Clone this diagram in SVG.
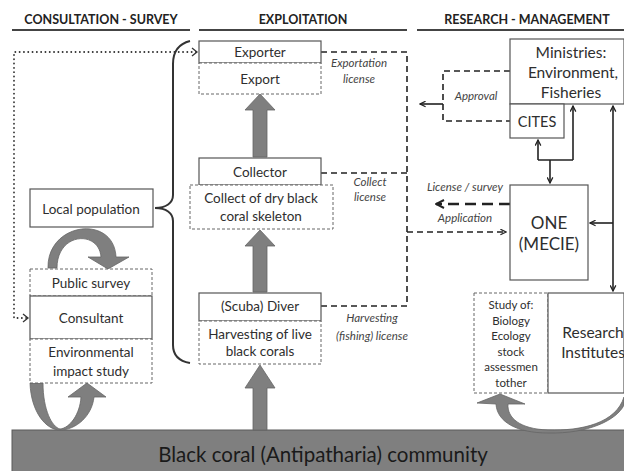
<svg xmlns="http://www.w3.org/2000/svg" width="624" height="471" viewBox="0 0 624 471">
<defs>
<style>
text{font-family:Lato,"Liberation Sans",sans-serif;fill:#2e2e2e}
.hdr{font-weight:bold;font-size:12.5px;fill:#222}
.hl{stroke:#444;stroke-width:2.2}
.box{fill:#fff;stroke:#555;stroke-width:1.2}
.dbox{fill:#fff;stroke:#666;stroke-width:1;stroke-dasharray:3 2}
.t13{font-size:13.5px;text-anchor:middle}
.t15{font-size:15.5px;text-anchor:middle}
.lab{font-size:11.5px;font-style:italic;text-anchor:middle;fill:#444}
.lic{fill:none;stroke:#222;stroke-width:1.6;stroke-dasharray:6 4}
.blk{fill:none;stroke:#222;stroke-width:1.6}
.garrow{fill:#7f7f7f;stroke:#666;stroke-width:0.8}
.st{font-size:11.5px;text-anchor:middle}
</style>
<marker id="ah" viewBox="0 0 10 10" refX="9" refY="5" markerWidth="7" markerHeight="7" orient="auto" markerUnits="userSpaceOnUse">
<path d="M1,1 L9,5 L1,9" fill="none" stroke="#222" stroke-width="1.8"/>
</marker>
<marker id="ahs" viewBox="0 0 10 10" refX="9" refY="5" markerWidth="7" markerHeight="7" orient="auto-start-reverse" markerUnits="userSpaceOnUse">
<path d="M1,1 L9,5 L1,9" fill="none" stroke="#222" stroke-width="1.8"/>
</marker>
<marker id="ahb" viewBox="0 0 10 10" refX="9" refY="5" markerWidth="10" markerHeight="10" orient="auto" markerUnits="userSpaceOnUse">
<path d="M1,1 L9,5 L1,9" fill="none" stroke="#222" stroke-width="2"/>
</marker>
</defs>
<rect width="624" height="471" fill="#fff"/>

<g id="headers">
<text class="hdr" x="101" y="24" text-anchor="middle">CONSULTATION - SURVEY</text>
<line class="hl" x1="12" y1="30" x2="190" y2="30"/>
<text class="hdr" x="303" y="24" text-anchor="middle">EXPLOITATION</text>
<line class="hl" x1="199" y1="30" x2="407" y2="30"/>
<text class="hdr" x="527" y="24" text-anchor="middle">RESEARCH - MANAGEMENT</text>
<line class="hl" x1="417" y1="30" x2="624" y2="30"/>
</g>

<g id="community">
<rect x="12" y="430" width="613" height="42" fill="#7f7f7f" stroke="#5a5a5a" stroke-width="1"/>
<text x="323" y="462" font-size="20.5" text-anchor="middle" style="fill:#1a1a1a">Black coral (Antipatharia) community</text>
</g>

<g id="connectors">
<path d="M196,52 L14,52 L14,318 L27,318" fill="none" stroke="#333" stroke-width="1.8" stroke-dasharray="0.1 4.2" stroke-linecap="round"/>
<path d="M192,48 L197,52 L192,56" fill="none" stroke="#333" stroke-width="1.3"/>
<path d="M23,314 L28,318 L23,322" fill="none" stroke="#333" stroke-width="1.3"/>
<path d="M190,41 C178,44 173,52 173,64 L173,195 C173,203 166,208 155,208 C166,208 173,213 173,221 L173,345 C173,355 178,361 190,363" fill="none" stroke="#333" stroke-width="2"/>
<path class="lic" d="M321,52 L407,52 L407,306 L321,306"/>
<path class="lic" d="M321,173 L407,173"/>
<path class="lic" d="M407,232 L506,232" marker-end="url(#ah)"/>
<path d="M510,204 L436,204" fill="none" stroke="#222" stroke-width="2.6" stroke-dasharray="11 6" marker-end="url(#ahb)"/>
<path class="lic" d="M510,71 L443,71 L443,121 L510,121"/>
<path class="blk" d="M443,104 L420,104" marker-end="url(#ah)"/>
<path class="blk" d="M538,160 L538,140" marker-end="url(#ah)"/>
<path class="blk" d="M573,160 L573,106" marker-end="url(#ah)"/>
<path class="blk" d="M538,160 L573,160"/>
<path class="blk" d="M550,160 L550,183" marker-end="url(#ah)"/>
<path class="blk" d="M613,106 L613,291" marker-start="url(#ahs)" marker-end="url(#ah)"/>
<path class="blk" d="M613,223 L590,223" marker-end="url(#ah)"/>
<path class="garrow" d="M253,157 L253,110 L245,110 L260,94 L275,110 L267,110 L267,157 Z"/>
<path class="garrow" d="M253,292 L253,246 L245,246 L260,230 L275,246 L267,246 L267,292 Z"/>
<path class="garrow" d="M253,430 L253,388 L245,388 L260,365 L275,388 L267,388 L267,430 Z"/>
<path class="garrow" d="M48,268 C47,222 114,214 116,257 L129,257 L108,269 L88,257 L101,257 C99,230 57,232 57,268 Z"/>
<path class="garrow" d="M30,383 C31,412 46,430 60,430 C76,430 92,416 94,397 L106,397 L87,383 L68,397 L81,397 C80,414 70,428 60,429 C52,427 43,410 43,383 Z"/>
<path class="garrow" d="M624,397 C616,423 582,431 548,430 C520,429 507,418 508,404 L525,404 L500,394 L477,403 L496,404 C497,422 517,433 548,433 C588,434 617,420 624,405 Z"/>
</g>

<g id="exporter"><rect class="box" x="199" y="41" width="122" height="22"/><text class="t13" x="260" y="57">Exporter</text></g>
<g id="export"><rect class="dbox" x="199" y="63" width="122" height="31"/><text class="t13" x="260" y="84">Export</text></g>
<g id="collector"><rect class="box" x="199" y="158" width="122" height="27"/><text class="t13" x="260" y="177">Collector</text></g>
<g id="collect"><rect class="dbox" x="190" y="185" width="143" height="44"/><text class="t13" x="261" y="203">Collect of dry black</text><text class="t13" x="261" y="221">coral skeleton</text></g>
<g id="diver"><rect class="box" x="199" y="293" width="122" height="28"/><text class="t13" x="260" y="311">(Scuba) Diver</text></g>
<g id="harvesting"><rect class="dbox" x="199" y="321" width="122" height="43"/><text class="t13" x="260" y="339">Harvesting of live</text><text class="t13" x="260" y="356">black corals</text></g>

<g id="licenses">
<text class="lab" x="359" y="67">Exportation</text><text class="lab" x="359" y="83">license</text>
<text class="lab" x="370" y="186">Collect</text><text class="lab" x="370" y="201">license</text>
<text class="lab" x="372" y="322">Harvesting</text><text class="lab" x="372" y="340">(fishing) license</text>
<text class="lab" x="476" y="100">Approval</text>
<text class="lab" x="465" y="191">License / survey</text>
<text class="lab" x="465" y="222">Application</text>
</g>

<g id="local-population"><rect class="box" x="30" y="189" width="123" height="38"/><text class="t13" x="91" y="214">Local population</text></g>
<g id="public-survey"><rect class="dbox" x="30" y="269" width="122" height="27"/><text class="t13" x="91" y="288">Public survey</text></g>
<g id="consultant"><rect class="box" x="30" y="296" width="122" height="43"/><text class="t13" x="91" y="323">Consultant</text></g>
<g id="env-impact"><rect class="dbox" x="30" y="339" width="122" height="44"/><text class="t13" x="91" y="357">Environmental</text><text class="t13" x="91" y="376">impact study</text></g>

<g id="ministries"><rect class="box" x="510" y="39" width="114" height="65"/><text class="t15" x="571" y="58">Ministries:</text><text class="t15" x="573" y="78">Environment,</text><text class="t15" x="571" y="98">Fisheries</text></g>
<g id="cites"><rect class="box" x="510" y="104" width="54" height="34"/><text class="t15" x="537" y="127" style="font-size:14.5px">CITES</text></g>
<g id="one"><rect class="box" x="510" y="185" width="78" height="95"/><text class="t15" x="549" y="229" style="font-size:17px">ONE</text><text class="t15" x="549" y="250" style="font-size:17px">(MECIE)</text></g>
<g id="study"><rect class="dbox" x="474" y="293" width="74" height="100"/>
<text class="st" x="511" y="309">Study of:</text>
<text class="st" x="511" y="325">Biology</text>
<text class="st" x="511" y="340">Ecology</text>
<text class="st" x="511" y="356">stock</text>
<text class="st" x="511" y="371">assessmen</text>
<text class="st" x="511" y="387">tother</text></g>
<g id="research"><rect class="box" x="548" y="293" width="76" height="100"/><text class="t15" x="593" y="338">Research</text><text class="t15" x="593" y="358">Institutes</text></g>
</svg>
